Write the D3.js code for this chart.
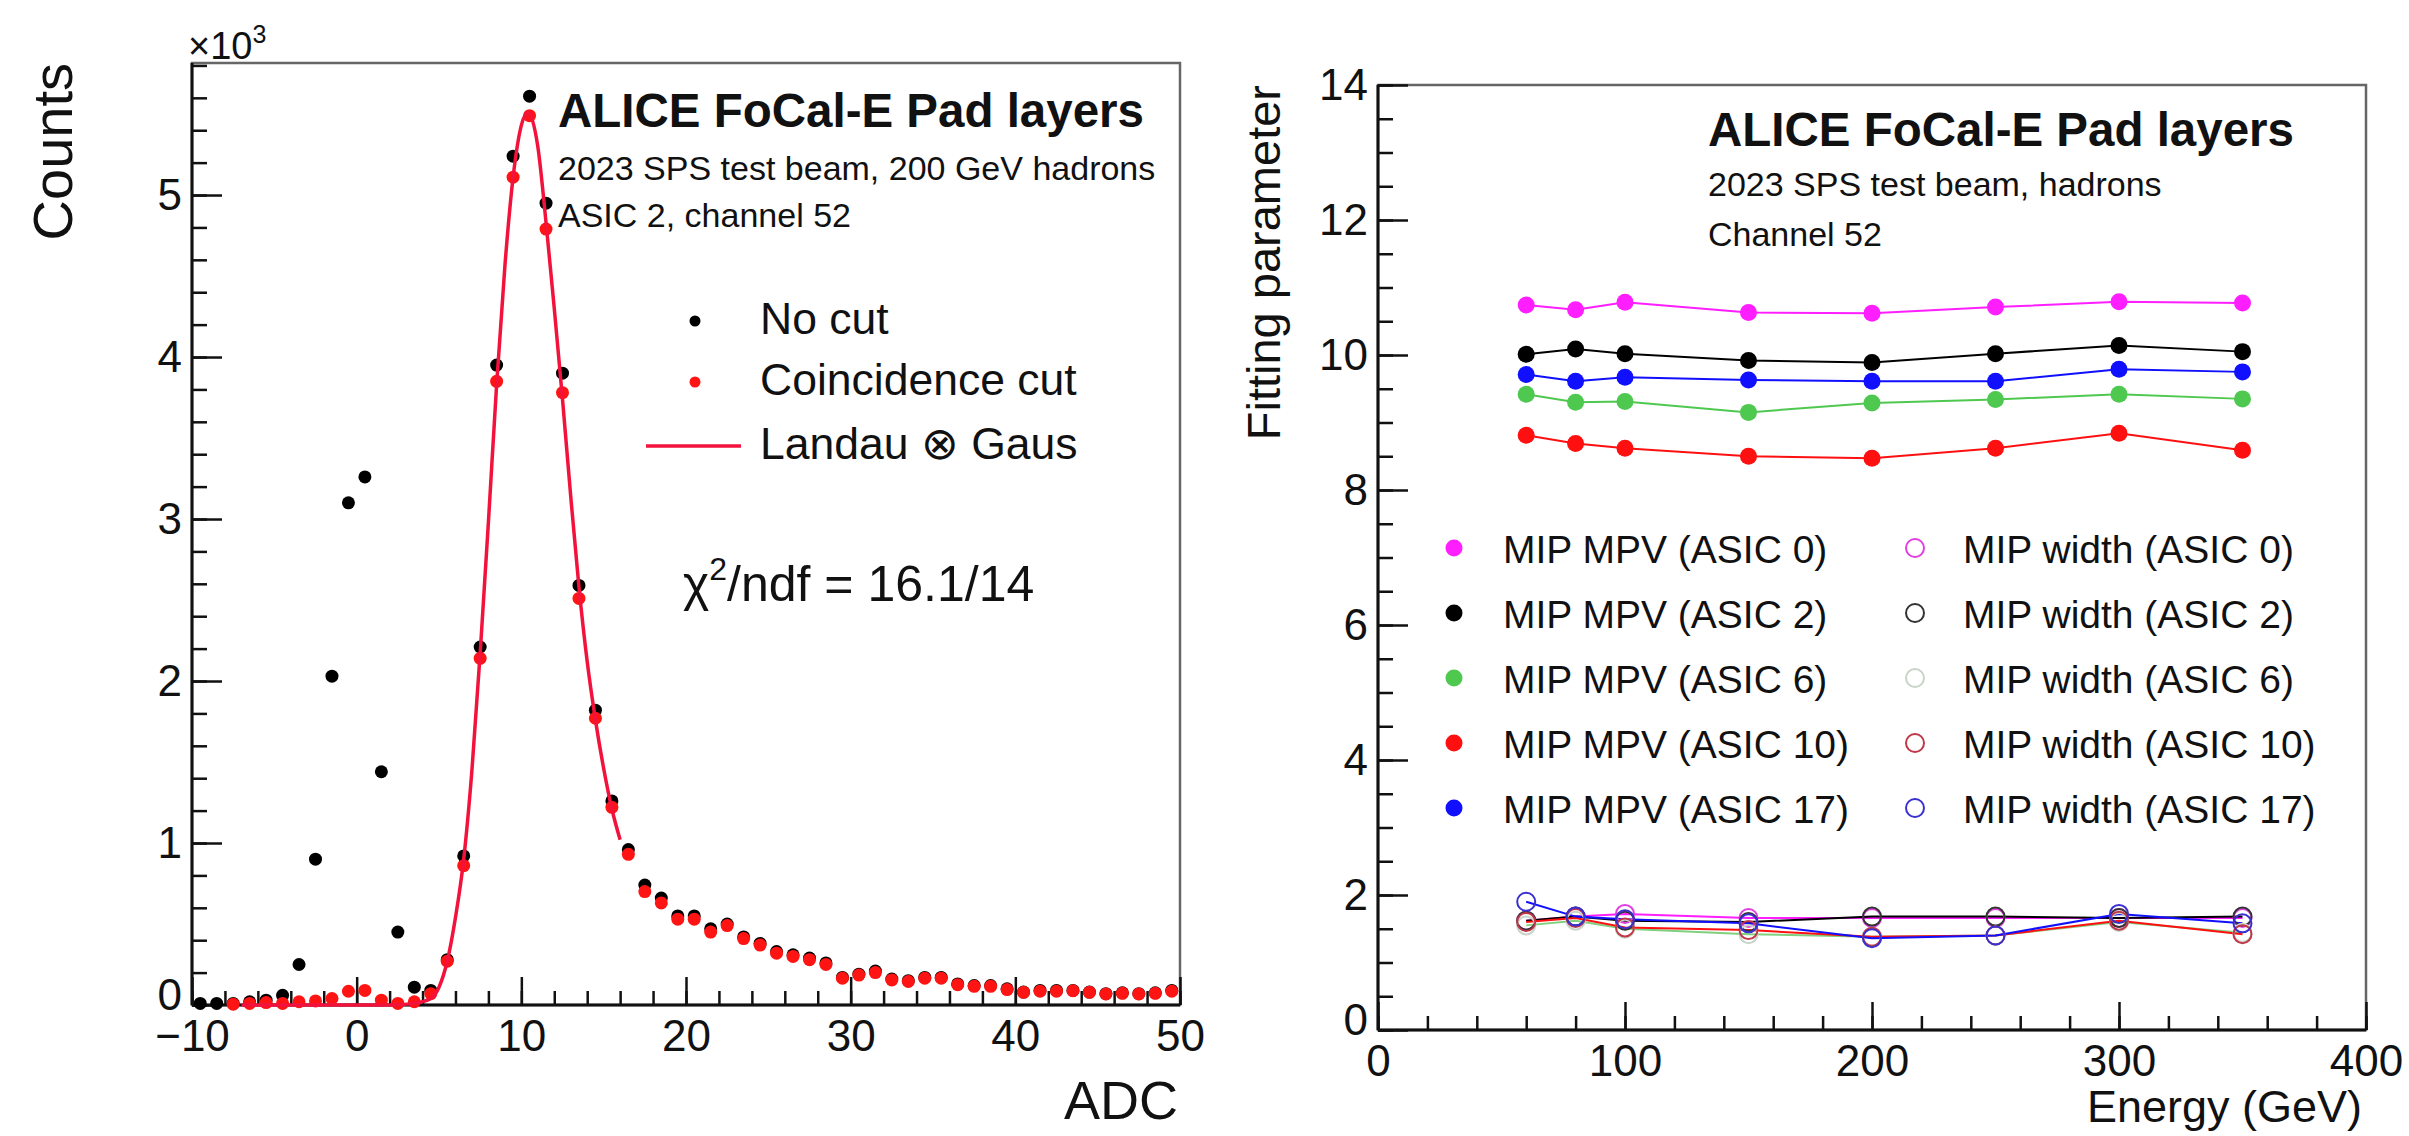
<!DOCTYPE html>
<html>
<head>
<meta charset="utf-8">
<script src="https://cdn.jsdelivr.net/npm/d3@7"></script>
<style>
  body { margin: 0; background: #fff; }
  svg { display: block; }
  text { font-family: "Liberation Sans", Arial, Helvetica, sans-serif; fill: #111; }
</style>
</head>
<body>
<svg id="chart" width="2409" height="1136"></svg>
<script>
// ---------------- Left: ADC spectrum of ASIC 2, channel 52 ----------------
const adcBins = [-9.5,-8.5,-7.5,-6.5,-5.5,-4.5,-3.5,-2.5,-1.5,-0.5,0.5,1.5,2.5,3.5,4.5,5.5,6.5,7.5,8.5,9.5,
  10.5,11.5,12.5,13.5,14.5,15.5,16.5,17.5,18.5,19.5,20.5,21.5,22.5,23.5,24.5,25.5,26.5,27.5,28.5,29.5,
  30.5,31.5,32.5,33.5,34.5,35.5,36.5,37.5,38.5,39.5,40.5,41.5,42.5,43.5,44.5,45.5,46.5,47.5,48.5,49.5];

const countsNoCut = [10,10,10,20,30,60,250,900,2030,3100,3260,1440,450,110,90,280,920,2210,3950,5240,
  5610,4950,3900,2590,1820,1260,960,740,660,550,550,470,500,420,380,330,310,290,260,170,
  190,210,160,150,170,170,130,120,120,100,80,90,90,90,80,70,75,70,75,90];

const countsCoincidence = [null,null,5,10,15,10,20,25,40,85,90,30,10,20,70,270,860,2140,3850,5110,
  5490,4790,3780,2510,1770,1220,930,700,630,530,530,450,490,410,370,320,300,280,250,165,
  185,200,155,145,165,165,125,115,115,95,78,85,85,88,78,68,72,68,72,85];

// Landau (x) Gaus fit to the coincidence-cut spectrum
const fitX = [-7,-2,2,3.5,4.5,5,5.5,6,6.5,7,7.5,8,8.5,9,9.5,10,10.4,11,11.5,12,12.5,13,13.5,14,14.5,15,15.5,16];
const fitY = [0,0,0,10,40,110,270,540,900,1450,2170,2980,3830,4560,5110,5430,5510,5300,4830,4300,3740,3140,2580,2120,1760,1460,1210,1020];

const adcTicks = [-10,0,10,20,30,40,50];
const countTicks = [0,1000,2000,3000,4000,5000];

// ---------------- Right: fit parameters vs beam energy ----------------
const energies = [60,80,100,150,200,250,300,350];
const asicNames = ["ASIC 0","ASIC 2","ASIC 6","ASIC 10","ASIC 17"];
const mpvAsic0  = [10.74,10.67,10.78,10.63,10.62,10.71,10.79,10.77];
const mpvAsic2  = [10.01,10.09,10.02,9.92,9.89,10.02,10.14,10.05];
const mpvAsic6  = [9.42,9.30,9.31,9.15,9.29,9.34,9.42,9.35];
const mpvAsic10 = [8.81,8.69,8.62,8.50,8.47,8.62,8.84,8.59];
const mpvAsic17 = [9.71,9.61,9.67,9.63,9.61,9.61,9.79,9.75];
const widthAsic0  = [1.62,1.68,1.72,1.66,1.66,1.66,1.66,1.66];
const widthAsic2  = [1.62,1.68,1.62,1.60,1.68,1.68,1.66,1.68];
const widthAsic6  = [1.55,1.62,1.50,1.42,1.38,1.40,1.60,1.44];
const widthAsic10 = [1.60,1.66,1.52,1.48,1.38,1.40,1.62,1.42];
const widthAsic17 = [1.90,1.68,1.64,1.58,1.36,1.40,1.72,1.58];

const energyTicks = [0,100,200,300,400];
const paramTicks = [0,2,4,6,8,10,12,14];

const mpvColors   = ["#ff1eff","#000000","#4fc84f","#ff1010","#1010ff"];
const widthColors = ["#e040e0","#333333","#c8d4c8","#c03848","#3a30d0"];

// --------------------------------------------------------------------
const svg = d3.select("#chart");
const FONT = '"Liberation Sans", Arial, Helvetica, sans-serif';
const minus = d => (d < 0 ? "\u2212" + Math.abs(d) : String(d));

function styleAxis(g, size) {
  g.attr("font-family", FONT).attr("font-size", size);
  g.select(".domain").remove();
  g.selectAll(".tick line").attr("stroke", "#111").attr("stroke-width", 2.5);
  g.selectAll(".tick text").attr("fill", "#111");
}

function frame(x0, y0, x1, y1) {
  svg.append("rect").attr("x", x0).attr("y", y0).attr("width", x1 - x0).attr("height", y1 - y0)
    .attr("fill", "none").attr("stroke", "#666").attr("stroke-width", 2.5);
  svg.append("line").attr("x1", x0).attr("x2", x0).attr("y1", y0).attr("y2", y1)
    .attr("stroke", "#111").attr("stroke-width", 3);
  svg.append("line").attr("x1", x0).attr("x2", x1).attr("y1", y1).attr("y2", y1)
    .attr("stroke", "#111").attr("stroke-width", 3);
}

function drawAxes(x, y, xTicks, xMinor, yTicks, yMinor, xFmt, yFmt) {
  const [bx] = x.range(); const [by] = y.range();
  const gxm = svg.append("g").attr("transform", `translate(0,${by})`)
    .call(d3.axisBottom(x).tickValues(xMinor).tickSizeInner(-14).tickSizeOuter(0).tickFormat(() => ""));
  styleAxis(gxm, 44);
  const gx = svg.append("g").attr("transform", `translate(0,${by})`)
    .call(d3.axisBottom(x).tickValues(xTicks).tickSizeInner(-28).tickSizeOuter(0).tickPadding(15).tickFormat(xFmt));
  styleAxis(gx, 44);
  const gym = svg.append("g").attr("transform", `translate(${bx},0)`)
    .call(d3.axisLeft(y).tickValues(yMinor).tickSizeInner(-15).tickSizeOuter(0).tickFormat(() => ""));
  styleAxis(gym, 44);
  const gy = svg.append("g").attr("transform", `translate(${bx},0)`)
    .call(d3.axisLeft(y).tickValues(yTicks).tickSizeInner(-30).tickSizeOuter(0).tickPadding(10).tickFormat(yFmt));
  styleAxis(gy, 44);
  // the lowest value label sits just above the corner, clear of the x labels
  gy.selectAll(".tick text").filter(d => d === 0).attr("dy", "0.1em");
}

// ======================= Left panel =======================
const xL = d3.scaleLinear().domain([-10, 50]).range([192, 1180]);
const yL = d3.scaleLinear().domain([0, 5815]).range([1005, 63]);

frame(192, 63, 1180, 1005);
drawAxes(xL, yL, adcTicks, d3.range(-10, 50.1, 2), countTicks, d3.range(0, 5801, 200),
  minus, d => String(d / 1000));

// multiplier above the count axis
svg.append("text").attr("x", 188).attr("y", 59).attr("font-size", 38)
  .text("\u00d710").append("tspan").attr("dy", -16).attr("font-size", 25).text("3");

svg.append("text").attr("transform", "translate(72,63) rotate(-90)")
  .attr("text-anchor", "end").attr("font-size", 56).text("Counts");
svg.append("text").attr("x", 1178).attr("y", 1119).attr("text-anchor", "end")
  .attr("font-size", 54).text("ADC");

const spec = adcBins.map((b, i) => ({ x: b, a: countsNoCut[i], c: countsCoincidence[i] }));

svg.append("g").selectAll("circle").data(spec).join("circle")
  .attr("cx", d => xL(d.x)).attr("cy", d => yL(d.a)).attr("r", 6.5).attr("fill", "#000");

svg.append("g").selectAll("circle").data(spec.filter(d => d.c !== null)).join("circle")
  .attr("cx", d => xL(d.x)).attr("cy", d => yL(d.c)).attr("r", 6.5).attr("fill", "#ff1414");

const fitLine = d3.line().x((d, i) => xL(fitX[i])).y(d => yL(d)).curve(d3.curveMonotoneX);
svg.append("path").attr("d", fitLine(fitY)).attr("fill", "none")
  .attr("stroke", "#f2123c").attr("stroke-width", 3.5);

// header
svg.append("text").attr("x", 558).attr("y", 127).attr("font-size", 47.5).attr("font-weight", "bold")
  .text("ALICE FoCal-E Pad layers");
svg.append("text").attr("x", 558).attr("y", 180).attr("font-size", 34)
  .text("2023 SPS test beam, 200 GeV hadrons");
svg.append("text").attr("x", 558).attr("y", 227).attr("font-size", 34)
  .text("ASIC 2, channel 52");

// legend
svg.append("circle").attr("cx", 695).attr("cy", 321).attr("r", 5.5).attr("fill", "#000");
svg.append("circle").attr("cx", 695).attr("cy", 382).attr("r", 5.5).attr("fill", "#ff1414");
svg.append("line").attr("x1", 646).attr("x2", 741).attr("y1", 446).attr("y2", 446)
  .attr("stroke", "#f2123c").attr("stroke-width", 3.5);
svg.append("text").attr("x", 760).attr("y", 334).attr("font-size", 44.5).text("No cut");
svg.append("text").attr("x", 760).attr("y", 395).attr("font-size", 44.5).text("Coincidence cut");
svg.append("text").attr("x", 760).attr("y", 459).attr("font-size", 44.5).text("Landau \u2297 Gaus");

const chi = svg.append("text").attr("x", 683).attr("y", 601).attr("font-size", 50);
chi.append("tspan").text("\u03c7");
chi.append("tspan").attr("dy", -21).attr("font-size", 32).text("2");
chi.append("tspan").attr("dy", 21).text("/ndf = 16.1/14");

// ======================= Right panel =======================
const xR = d3.scaleLinear().domain([0, 400]).range([1378, 2366]);
const yR = d3.scaleLinear().domain([0, 14]).range([1030, 85]);

frame(1378, 85, 2366, 1030);
drawAxes(xR, yR, energyTicks, d3.range(0, 401, 20), paramTicks, d3.range(0, 14.01, 0.5),
  d => String(d), d => String(d));

svg.append("text").attr("transform", "translate(1280,85) rotate(-90)")
  .attr("text-anchor", "end").attr("font-size", 47).text("Fitting parameter");
svg.append("text").attr("x", 2362).attr("y", 1122).attr("text-anchor", "end")
  .attr("font-size", 45).text("Energy (GeV)");

const mpvSeries = [mpvAsic0, mpvAsic2, mpvAsic6, mpvAsic10, mpvAsic17];
const widthSeries = [widthAsic0, widthAsic2, widthAsic6, widthAsic10, widthAsic17];
const lineR = d3.line().x((d, i) => xR(energies[i])).y(d => yR(d));

widthSeries.forEach((vals, k) => {
  svg.append("path").attr("d", lineR(vals)).attr("fill", "none")
    .attr("stroke", k === 2 ? "#7fd07f" : mpvColors[k]).attr("stroke-width", 2);
});
widthSeries.forEach((vals, k) => {
  svg.append("g").selectAll("circle").data(vals).join("circle")
    .attr("cx", (d, i) => xR(energies[i])).attr("cy", d => yR(d)).attr("r", 9)
    .attr("fill", "none").attr("stroke", widthColors[k]).attr("stroke-width", 2);
});
mpvSeries.forEach((vals, k) => {
  svg.append("path").attr("d", lineR(vals)).attr("fill", "none")
    .attr("stroke", mpvColors[k]).attr("stroke-width", 2);
});
mpvSeries.forEach((vals, k) => {
  svg.append("g").selectAll("circle").data(vals).join("circle")
    .attr("cx", (d, i) => xR(energies[i])).attr("cy", d => yR(d)).attr("r", 8.5)
    .attr("fill", mpvColors[k]);
});

svg.append("text").attr("x", 1708).attr("y", 146).attr("font-size", 47.5).attr("font-weight", "bold")
  .text("ALICE FoCal-E Pad layers");
svg.append("text").attr("x", 1708).attr("y", 196).attr("font-size", 34)
  .text("2023 SPS test beam, hadrons");
svg.append("text").attr("x", 1708).attr("y", 246).attr("font-size", 34).text("Channel 52");

// legend: two columns, five rows
asicNames.forEach((name, k) => {
  const cy = 548 + 65 * k;
  svg.append("circle").attr("cx", 1454).attr("cy", cy).attr("r", 8.5).attr("fill", mpvColors[k]);
  svg.append("text").attr("x", 1503).attr("y", cy + 15).attr("font-size", 39)
    .text(`MIP MPV (${name})`);
  svg.append("circle").attr("cx", 1915).attr("cy", cy).attr("r", 9).attr("fill", "none")
    .attr("stroke", widthColors[k]).attr("stroke-width", 2);
  svg.append("text").attr("x", 1963).attr("y", cy + 15).attr("font-size", 39)
    .text(`MIP width (${name})`);
});
</script>
</body>
</html>
